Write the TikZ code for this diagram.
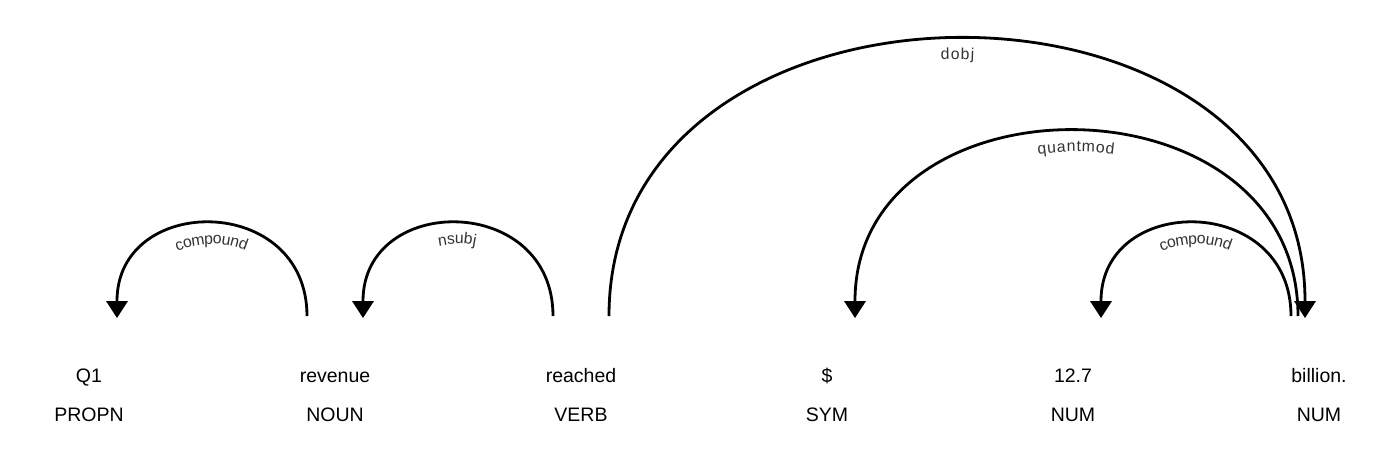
\documentclass[tikz,border=0pt]{standalone}
\usepackage{fontspec}
\setmainfont{Liberation Sans}
\newfontfamily\lblfont{Liberation Sans}
\newcommand\lk{\kern1.5pt}
\usetikzlibrary{arrows.meta,decorations.text}
\begin{document}
\begin{tikzpicture}[x=1pt,y=-1pt,
  word/.style={anchor=base, font=\fontsize{19.5}{22}\selectfont, inner sep=0pt, text=black},
  deparc/.style={line width=2.8pt, draw=black},
  tipL/.style={{Triangle[width=22pt,length=17pt,line width=0pt]}-},
  tipR/.style={-{Triangle[width=22pt,length=17pt,line width=0pt]}},
  lbl/.style={postaction={decorate,decoration={text along path,
      text={|\lblfont\fontsize{15.8}{18}\selectfont|#1},
      text color=black!80, text align=center, raise=-20pt}}}
]
\useasboundingbox (0,0) rectangle (1387,448);
% words
\node[word] (w0) at (89,382) {Q1};
\node[word] (w1) at (335,382) {revenue};
\node[word] (w2) at (581,382) {reached};
\node[word] (w3) at (827,382) {\$};
\node[word] (w4) at (1073,382) {12.7};
\node[word] (w5) at (1319,382) {billion.};
% tags
\node[word] (t0) at (89,421) {PROPN};
\node[word] (t1) at (335,421) {NOUN};
\node[word] (t2) at (581,421) {VERB};
\node[word] (t3) at (827,421) {SYM};
\node[word] (t4) at (1073,421) {NUM};
\node[word] (t5) at (1319,421) {NUM};
% arc end points
\coordinate (a1s) at (117,318);  \coordinate (a1e) at (307,316);
\coordinate (a2s) at (363,318);  \coordinate (a2e) at (553,316);
\coordinate (a3s) at (609,316);  \coordinate (a3e) at (1305,318);
\coordinate (a4s) at (855,318);  \coordinate (a4e) at (1298,316);
\coordinate (a5s) at (1101,318); \coordinate (a5e) at (1291,316);
% arcs
\draw[deparc,tipL,lbl={{c\lk}{o\lk}{m\lk}{p\lk}{o\lk}{u\lk}{n\lk}{d}}]
  (a1s) .. controls (117,193) and (307,193) .. (a1e);
\draw[deparc,tipL,lbl={{n\lk}{s\lk}{u\lk}{b\lk}{j}}]
  (a2s) .. controls (363,193) and (553,193) .. (a2e);
\draw[deparc,tipR,lbl={{d\lk}{o\lk}{b\lk}{j}}]
  (a3s) .. controls (609,-53) and (1305,-53) .. (a3e);
\draw[deparc,tipL,lbl={{q\lk}{u\lk}{a\lk}{n\lk}{t\lk}{m\lk}{o\lk}{d}}]
  (a4s) .. controls (855,70) and (1298,70) .. (a4e);
\draw[deparc,tipL,lbl={{c\lk}{o\lk}{m\lk}{p\lk}{o\lk}{u\lk}{n\lk}{d}}]
  (a5s) .. controls (1101,193) and (1291,193) .. (a5e);
\end{tikzpicture}
\end{document}
